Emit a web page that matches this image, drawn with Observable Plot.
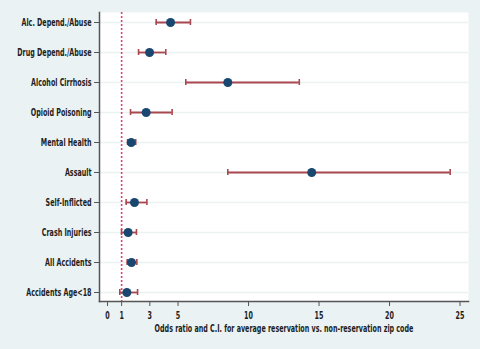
<!DOCTYPE html>
<html>
<head>
<meta charset="utf-8">
<script src="https://cdn.jsdelivr.net/npm/d3@7"></script>
<script src="https://cdn.jsdelivr.net/npm/@observablehq/plot@0.6"></script>
<style>
  html, body { margin: 0; padding: 0; background: #eaf2f3; }
  #chart svg { display: block; }
</style>
</head>
<body>
<div id="chart"></div>
<script>
const categories = ["Alc. Depend./Abuse", "Drug Depend./Abuse", "Alcohol Cirrhosis", "Opioid Poisoning", "Mental Health", "Assault", "Self-Inflicted", "Crash Injuries", "All Accidents", "Accidents Age<18"];
const oddsRatio = [4.47, 2.98, 8.53, 2.74, 1.68, 14.48, 1.91, 1.46, 1.70, 1.37];
const ciLow     = [3.45, 2.20, 5.55, 1.63, 1.42, 8.53, 1.32, 0.99, 1.39, 0.87];
const ciHigh    = [5.88, 4.13, 13.6, 4.58, 2.00, 24.3, 2.79, 2.05, 2.08, 2.13];
const xTicks = [0, 1, 3, 5, 10, 15, 20, 25];
const refLine = [1];
const xLabel = "Odds ratio and C.I. for average reservation vs. non-reservation zip code";

const data = categories.map((name, i) => ({name, or: oddsRatio[i], lo: ciLow[i], hi: ciHigh[i]}));

const font = "'DejaVu Sans Condensed', 'DejaVu Sans', sans-serif";
const errColor = "#a8474e";

const chart = Plot.plot({
  width: 480,
  height: 349,
  marginLeft: 99,
  marginRight: 12,
  marginTop: 12,
  marginBottom: 48,
  style: {background: "#eaf2f3", fontFamily: font, fontSize: "11px", fontWeight: "bold", color: "#1e1e1e"},
  x: {domain: [-0.57, 25.6]},
  y: {type: "band", domain: categories, range: [4.8, 308.8], padding: 0},
  marks: [
    Plot.frame({fill: "white", stroke: null}),
    Plot.gridY({stroke: "#eaf2f3", strokeOpacity: 1, strokeWidth: 1.5}),
    Plot.ruleX(refLine, {x: d => d, stroke: "#e5406f", strokeWidth: 1.6, strokeDasharray: "2,2"}),
    Plot.ruleY(data, {y: "name", x1: "lo", x2: "hi", stroke: errColor, strokeWidth: 1.8}),
    Plot.tickX(data, {y: "name", x: "lo", stroke: errColor, strokeWidth: 1.6, insetTop: 12, insetBottom: 12}),
    Plot.tickX(data, {y: "name", x: "hi", stroke: errColor, strokeWidth: 1.6, insetTop: 12, insetBottom: 12}),
    Plot.dot(data, {y: "name", x: "or", r: 4.5, fill: "#1a476f", stroke: null}),
    Plot.frame({anchor: "left", stroke: "#555", strokeWidth: 1.5}),
    Plot.frame({anchor: "bottom", stroke: "#555", strokeWidth: 1.5}),
    Plot.axisY({tickSize: 5, tickPadding: 3, label: null, stroke: "#555", fontSize: 11}),
    Plot.axisX({ticks: xTicks, tickFormat: d => String(d), tickSize: 5, tickPadding: 5, stroke: "#555", fontSize: 11,
      label: xLabel, labelAnchor: "center", labelArrow: "none", labelOffset: 30})
  ]
});
document.getElementById("chart").appendChild(chart);

// Squeeze text horizontally to mimic the condensed typeface of the original
let ref = null;
chart.querySelectorAll("text").forEach(t => { if (t.textContent === categories[0]) ref = t; });
const factor = ref ? 70 / ref.getComputedTextLength() : 0.68;
chart.querySelectorAll("text").forEach(t => {
  const targets = t.querySelectorAll("tspan").length ? t.querySelectorAll("tspan") : [t];
  targets.forEach(el => {
    const len = el.getComputedTextLength();
    if (len > 0) {
      el.setAttribute("textLength", (len * factor).toFixed(2));
      el.setAttribute("lengthAdjust", "spacingAndGlyphs");
    }
  });
});
</script>
</body>
</html>
